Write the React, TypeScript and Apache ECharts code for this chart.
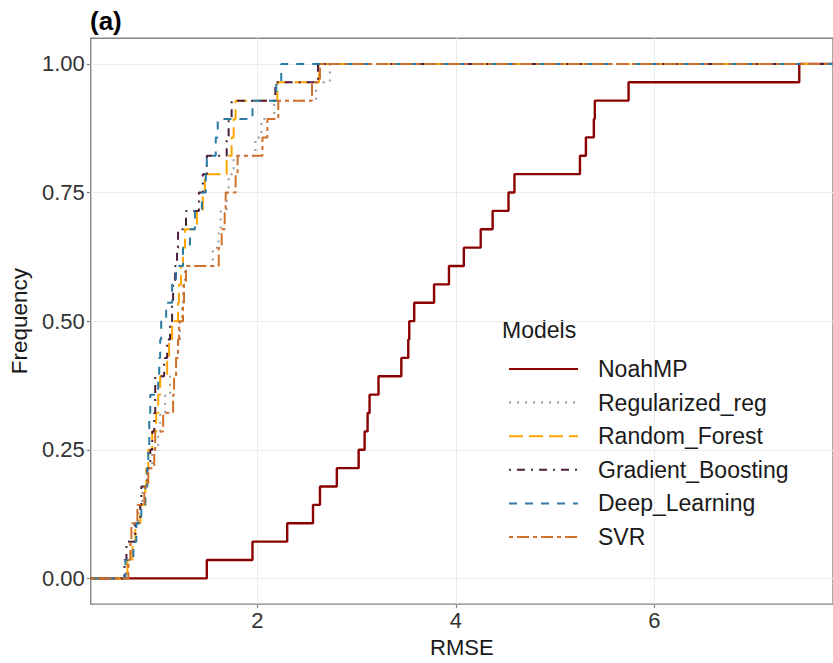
import React, { useEffect, useRef } from "react";
import * as echarts from "echarts";

// RMSE of each model at the 28 sites (one value per site)
const modelNames = [
  "NoahMP",
  "Regularized_reg",
  "Random_Forest",
  "Gradient_Boosting",
  "Deep_Learning",
  "SVR",
];

const noahMP = [
  1.49, 1.95, 2.3, 2.56, 2.63, 2.8, 3.02, 3.08, 3.11, 3.13, 3.22, 3.45, 3.52, 3.53,
  3.58, 3.78, 3.93, 4.08, 4.25, 4.37, 4.53, 4.59, 5.25, 5.31, 5.39, 5.4, 5.74, 7.46,
];
const regularizedReg = [
  0.68, 0.72, 0.76, 0.8, 0.84, 0.89, 0.94, 1.0, 1.02, 1.07, 1.12, 1.18, 1.2, 1.22,
  1.24, 1.25, 1.27, 1.55, 1.61, 1.63, 1.69, 1.71, 1.76, 1.98, 2.04, 2.17, 2.59, 2.73,
];
const randomForest = [
  0.69, 0.74, 0.77, 0.82, 0.87, 0.88, 0.9, 0.94, 0.98, 1.0, 1.02, 1.09, 1.11, 1.14,
  1.2, 1.21, 1.23, 1.25, 1.27, 1.39, 1.45, 1.47, 1.69, 1.74, 1.76, 1.78, 2.2, 2.62,
];
const gradientBoosting = [
  0.66, 0.68, 0.77, 0.82, 0.83, 0.89, 0.92, 0.94, 0.96, 0.97, 0.97, 1.06, 1.09, 1.12,
  1.14, 1.15, 1.17, 1.19, 1.2, 1.28, 1.41, 1.45, 1.49, 1.69, 1.71, 1.74, 2.18, 2.61,
];
const deepLearning = [
  0.67, 0.75, 0.78, 0.83, 0.87, 0.89, 0.9, 0.91, 0.91, 0.92, 1.0, 1.01, 1.02, 1.03,
  1.08, 1.14, 1.18, 1.25, 1.32, 1.37, 1.44, 1.48, 1.49, 1.58, 1.6, 1.95, 2.19, 2.24,
];
const svr = [
  0.7, 0.72, 0.73, 0.79, 0.86, 0.9, 0.96, 0.97, 1.05, 1.15, 1.16, 1.18, 1.2, 1.21,
  1.25, 1.26, 1.28, 1.61, 1.64, 1.67, 1.68, 1.78, 1.8, 2.05, 2.1, 2.21, 2.55, 2.63,
];

const xTicks = [2, 4, 6];
const yTicks = [0, 0.25, 0.5, 0.75, 1];

const seriesValues = [noahMP, regularizedReg, randomForest, gradientBoosting, deepLearning, svr];
const seriesColors = ["#8B0000", "#9a9a9a", "#FFA500", "#4B1E3A", "#2A7AA5", "#D2702A"];
// ggplot-like line types: solid, dotted, longdash, dotdash, dashed, twodash
const seriesDash: (string | number[])[] = [
  "solid",
  [2, 6],
  [14, 6],
  [2, 6, 8, 6],
  [8, 8],
  [4, 4, 12, 4],
];
const seriesWidth = [2.4, 2, 2, 2, 2, 2];

const FONT = "'Liberation Sans', Arial, Helvetica, sans-serif";

function ecdfPoints(values: number[], lo: number, hi: number): number[][] {
  const s = [...values].sort((a, b) => a - b);
  const n = s.length;
  const pts: number[][] = [[lo, 0]];
  s.forEach((v, i) => pts.push([v, (i + 1) / n]));
  pts.push([hi, 1]);
  return pts;
}

export default function App() {
  const ref = useRef<HTMLDivElement>(null);

  useEffect(() => {
    if (!ref.current) return;
    const chart = echarts.init(ref.current, undefined, { renderer: "svg" });

    // x range: data range expanded by 5% on each side
    const all = seriesValues.flat();
    const dMin = Math.min(...all);
    const dMax = Math.max(...all);
    const pad = (dMax - dMin) * 0.05;
    const xLo = dMin - pad;
    const xHi = dMax + pad;

    const gridColor = "#ececec";
    const frameColor = "#858585";

    chart.setOption({
      animation: false,
      backgroundColor: "#ffffff",
      textStyle: { fontFamily: FONT },
      grid: {
        left: 90.5,
        right: -3.5,
        top: 38.2,
        bottom: 57.2,
        show: true,
        borderColor: frameColor,
        borderWidth: 1.4,
        backgroundColor: "#ffffff",
        containLabel: false,
      },
      xAxis: {
        type: "value",
        min: xLo,
        max: xHi,
        name: "RMSE",
        nameLocation: "middle",
        nameGap: 30,
        nameTextStyle: { fontSize: 22, color: "#1a1a1a", fontFamily: FONT },
        axisLine: { show: false, onZero: false },
        axisTick: {
          show: true,
          length: 4,
          customValues: xTicks,
          lineStyle: { color: frameColor, width: 1.2 },
        },
        axisLabel: {
          customValues: xTicks,
          fontSize: 22,
          color: "#333333",
          margin: 5,
          fontFamily: FONT,
          formatter: (v: number) => String(v),
        },
        splitLine: { show: true, lineStyle: { color: gridColor, width: 1 } },
      },
      yAxis: {
        type: "value",
        min: -0.05,
        max: 1.05,
        name: "Frequency",
        nameLocation: "middle",
        nameGap: 57,
        nameTextStyle: { fontSize: 22.5, color: "#1a1a1a", fontFamily: FONT },
        axisLine: { show: false, onZero: false },
        axisTick: {
          show: true,
          length: 4,
          customValues: yTicks,
          lineStyle: { color: frameColor, width: 1.2 },
        },
        axisLabel: {
          customValues: yTicks,
          fontSize: 22,
          color: "#333333",
          margin: 6,
          fontFamily: FONT,
          formatter: (v: number) => v.toFixed(2),
        },
        splitLine: { show: true, lineStyle: { color: gridColor, width: 1 } },
      },
      legend: {
        orient: "vertical",
        left: 508,
        top: 356,
        padding: 0,
        itemWidth: 69,
        itemHeight: 14,
        itemGap: 7.6,
        selectedMode: false,
        data: modelNames,
        itemStyle: { opacity: 0, borderWidth: 0 },
        textStyle: {
          fontSize: 23,
          color: "#1a1a1a",
          lineHeight: 26,
          fontFamily: FONT,
          padding: [0, 0, 0, 15],
        },
      },
      graphic: [
        {
          type: "text",
          left: 90,
          top: 8,
          style: { text: "(a)", font: `bold 26px ${FONT}`, fill: "#000000" },
        },
        {
          type: "text",
          left: 502,
          top: 318,
          style: { text: "Models", font: `23px ${FONT}`, fill: "#1a1a1a" },
        },
      ],
      series: modelNames.map((name, i) => ({
        name,
        type: "line",
        step: "end",
        symbol: "none",
        showSymbol: false,
        data: ecdfPoints(seriesValues[i], xLo, xHi),
        lineStyle: {
          color: seriesColors[i],
          width: seriesWidth[i],
          type: seriesDash[i],
        },
        itemStyle: { color: seriesColors[i] },
        emphasis: { disabled: true },
        z: 2 + i,
      })),
    });

    return () => chart.dispose();
  }, []);

  return (
    <div
      ref={ref}
      style={{ position: "fixed", left: 0, top: 0, width: 833, height: 663 }}
    />
  );
}
